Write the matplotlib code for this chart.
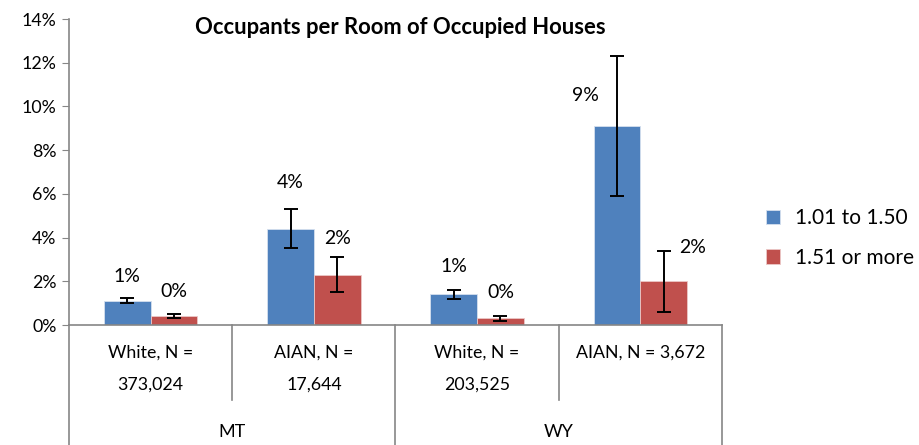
import matplotlib
matplotlib.use("Agg")
import matplotlib.pyplot as plt
from matplotlib.ticker import FuncFormatter

plt.rcParams['font.family'] = ['Lato', 'DejaVu Sans']

# ---- data ----
states = ["MT", "WY"]
groups = ["White, N =\n373,024", "AIAN, N =\n17,644", "White, N =\n203,525", "AIAN, N = 3,672"]
series = ["1.01 to 1.50", "1.51 or more"]
vals_a = [1.1, 4.4, 1.4, 9.1]          # 1.01 to 1.50 (%)
vals_b = [0.4, 2.3, 0.3, 2.0]          # 1.51 or more (%)
lo_a = [0.99, 3.51, 1.20, 5.90]
hi_a = [1.22, 5.31, 1.62, 12.30]
lo_b = [0.31, 1.51, 0.18, 0.61]
hi_b = [0.52, 3.11, 0.43, 3.40]
labels_a = ["1%", "4%", "1%", "9%"]
labels_b = ["0%", "2%", "0%", "2%"]
yticks = [0, 2, 4, 6, 8, 10, 12, 14]

# label offsets (pixels) - style
off_a = [(0, 24), (0, 46), (0, 28), (-32, 31)]
off_b = [(0, 25), (0, 36), (0, 26), (29, 34)]

blue = "#4F81BD"
red = "#C0504D"
axcol = "#868686"

W, H = 920, 445
fig = plt.figure(figsize=(W / 100, H / 100), dpi=100)
x0, x1, y0, y1 = 69, 722, 325, 19
ax = fig.add_axes([x0 / W, (H - y0) / H, (x1 - x0) / W, (y0 - y1) / H])

n = len(groups)
xs = list(range(n))
bw = 0.2857
xa = [x - bw / 2 for x in xs]
xb = [x + bw / 2 for x in xs]
ax.bar(xa, vals_a, bw, color=blue, edgecolor="#D5E0EE", linewidth=0.6, label=series[0], zorder=2)
ax.bar(xb, vals_b, bw, color=red, edgecolor="#EBC8C7", linewidth=0.6, label=series[1], zorder=2)
ea = [[v - l for v, l in zip(vals_a, lo_a)], [h - v for v, h in zip(vals_a, hi_a)]]
eb = [[v - l for v, l in zip(vals_b, lo_b)], [h - v for v, h in zip(vals_b, hi_b)]]
ax.errorbar(xa, vals_a, yerr=ea, fmt="none", ecolor="black", elinewidth=1.4, capsize=5, capthick=1.4, zorder=3)
ax.errorbar(xb, vals_b, yerr=eb, fmt="none", ecolor="black", elinewidth=1.4, capsize=5, capthick=1.4, zorder=3)

for x, v, t, (dx, dy) in zip(xa, vals_a, labels_a, off_a):
    ax.annotate(t, (x, v), xytext=(dx * 0.72, dy * 0.72), textcoords="offset points",
                ha="center", va="center", fontsize=14, color="#000000")
for x, v, t, (dx, dy) in zip(xb, vals_b, labels_b, off_b):
    ax.annotate(t, (x, v), xytext=(dx * 0.72, dy * 0.72), textcoords="offset points",
                ha="center", va="center", fontsize=14, color="#000000")

ax.set_xlim(-0.5, n - 0.5)
ax.set_ylim(0, 14)
ax.set_yticks(yticks)
ax.yaxis.set_major_formatter(FuncFormatter(lambda v, p: f"{v:.0f}%"))
ax.tick_params(axis="y", direction="out", length=5, color=axcol, labelsize=12.8, pad=4)
ax.set_xticks([])
for s in ["top", "right"]:
    ax.spines[s].set_visible(False)
ax.spines["left"].set_color(axcol)
ax.spines["bottom"].set_color(axcol)
ax.spines["left"].set_linewidth(1.2)
ax.spines["bottom"].set_linewidth(1.2)

# multi-level category axis
trans = ax.get_xaxis_transform()
def py(p):  # pixel y below axis -> axes fraction
    return (H - p - (H - y0)) / (y0 - y1)

for i in range(n + 1):
    xpos = i - 0.5
    bottom = 445 if i % 2 == 0 else 400
    ax.plot([xpos, xpos], [0, py(bottom)], transform=trans, color=axcol, lw=1.2, clip_on=False)
for i, g in enumerate(groups):
    lines = g.split("\n")
    for j, ln in enumerate(lines):
        ax.text(i, py(353 + 32 * j), ln, transform=trans, ha="center", va="center", fontsize=12.8)
for k, s in enumerate(states):
    ax.text(2 * k + 0.5, py(432), s, transform=trans, ha="center", va="center", fontsize=13)

fig.text(400 / W, 1 - 28 / H, "Occupants per Room of Occupied Houses", ha="center", va="center",
         fontsize=15.8, fontweight="bold")

leg = fig.legend(loc="center left", bbox_to_anchor=(747 / W, 1 - 238 / H), frameon=False,
                 fontsize=15, handlelength=0.67, handleheight=0.67, labelspacing=0.95, handletextpad=0.75)

fig.savefig("out.png", dpi=100)
